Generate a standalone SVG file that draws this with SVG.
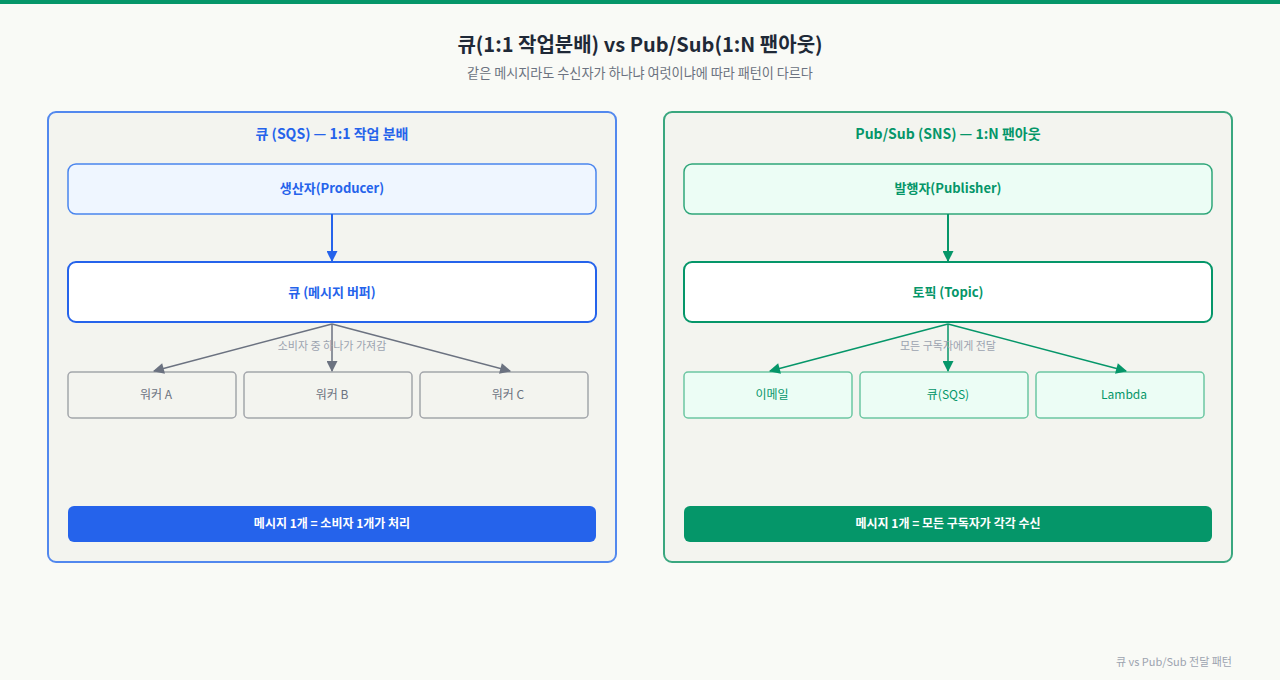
<svg xmlns="http://www.w3.org/2000/svg" width="1280" height="680" viewBox="0 0 1280 680">
<defs>
<marker id="ab" viewBox="0 0 10 10" refX="9" refY="5" markerWidth="12" markerHeight="11" markerUnits="userSpaceOnUse" orient="auto"><path d="M0,0 L10,5 L0,10 z" fill="#2563eb"/></marker>
<marker id="ag" viewBox="0 0 10 10" refX="9" refY="5" markerWidth="12" markerHeight="11" markerUnits="userSpaceOnUse" orient="auto"><path d="M0,0 L10,5 L0,10 z" fill="#6b7280"/></marker>
<marker id="an" viewBox="0 0 10 10" refX="9" refY="5" markerWidth="12" markerHeight="11" markerUnits="userSpaceOnUse" orient="auto"><path d="M0,0 L10,5 L0,10 z" fill="#059669"/></marker>
<style>
text{font-family:"Noto Sans CJK KR","Noto Sans",sans-serif;text-anchor:middle}
.title{font-size:20px;font-weight:700;fill:#1f2937}
.sub{font-size:13.1px;fill:#6b7280}
.ptb{font-size:14px;font-weight:700;fill:#2563eb}
.ptg{font-size:14px;font-weight:700;fill:#059669}
.nb{font-size:13px;font-weight:700;fill:#2563eb}
.ng{font-size:13px;font-weight:700;fill:#059669}
.w{font-size:12px;fill:#6b7280}
.s{font-size:12px;fill:#059669}
.lbl{font-size:11px;fill:#9ca3af}
.bar{font-size:12px;font-weight:700;fill:#ffffff}
.foot{font-size:11px;fill:#9ca3af;text-anchor:end}
</style>
</defs>
<rect x="0" y="0" width="1280" height="680" fill="#f9faf6"/>
<rect x="0" y="0" width="1280" height="4" fill="#059669"/>
<text class="title" x="640" y="52">큐(1:1 작업분배) vs Pub/Sub(1:N 팬아웃)</text>
<text class="sub" x="640" y="78">같은 메시지라도 수신자가 하나냐 여럿이냐에 따라 패턴이 다르다</text>

<g id="panel-queue">
<rect x="48" y="112" width="568" height="450" rx="8" fill="#f3f4ef" stroke="#5288ee" stroke-width="2"/>
<text class="ptb" x="332" y="139">큐 (SQS) — 1:1 작업 분배</text>
</g>
<g id="producer">
<rect x="68" y="164" width="528" height="50" rx="8" fill="#eff6ff" stroke="#4a85ee" stroke-width="1.5"/>
<text class="nb" x="332" y="193">생산자(Producer)</text>
</g>
<g id="queue">
<rect x="68" y="262" width="528" height="60" rx="8" fill="#ffffff" stroke="#2563eb" stroke-width="2"/>
<text class="nb" x="332" y="297">큐 (메시지 버퍼)</text>
</g>
<g id="worker-a">
<rect x="68" y="372" width="168" height="46" rx="4" fill="#f3f4ef" stroke="#a3a6ab" stroke-width="1.5"/>
<text class="w" x="156" y="399">워커 A</text>
</g>
<g id="worker-b">
<rect x="244" y="372" width="168" height="46" rx="4" fill="#f3f4ef" stroke="#a3a6ab" stroke-width="1.5"/>
<text class="w" x="332" y="399">워커 B</text>
</g>
<g id="worker-c">
<rect x="420" y="372" width="168" height="46" rx="4" fill="#f3f4ef" stroke="#a3a6ab" stroke-width="1.5"/>
<text class="w" x="508" y="399">워커 C</text>
</g>
<g id="queue-note">
<rect x="68" y="506" width="528" height="36" rx="6" fill="#2563eb"/>
<text class="bar" x="332" y="528">메시지 1개 = 소비자 1개가 처리</text>
</g>

<g id="panel-pubsub">
<rect x="664" y="112" width="568" height="450" rx="8" fill="#f3f4ef" stroke="#3aa77f" stroke-width="2"/>
<text class="ptg" x="948" y="139">Pub/Sub (SNS) — 1:N 팬아웃</text>
</g>
<g id="publisher">
<rect x="684" y="164" width="528" height="50" rx="8" fill="#ecfdf5" stroke="#2fa67a" stroke-width="1.5"/>
<text class="ng" x="948" y="193">발행자(Publisher)</text>
</g>
<g id="topic">
<rect x="684" y="262" width="528" height="60" rx="8" fill="#ffffff" stroke="#059669" stroke-width="2"/>
<text class="ng" x="948" y="297">토픽 (Topic)</text>
</g>
<g id="sub-email">
<rect x="684" y="372" width="168" height="46" rx="4" fill="#ecfdf5" stroke="#6cc6a2" stroke-width="1.5"/>
<text class="s" x="772" y="399">이메일</text>
</g>
<g id="sub-sqs">
<rect x="860" y="372" width="168" height="46" rx="4" fill="#ecfdf5" stroke="#6cc6a2" stroke-width="1.5"/>
<text class="s" x="948" y="399">큐(SQS)</text>
</g>
<g id="sub-lambda">
<rect x="1036" y="372" width="168" height="46" rx="4" fill="#ecfdf5" stroke="#6cc6a2" stroke-width="1.5"/>
<text class="s" x="1124" y="399">Lambda</text>
</g>
<g id="pubsub-note">
<rect x="684" y="506" width="528" height="36" rx="6" fill="#059669"/>
<text class="bar" x="948" y="528">메시지 1개 = 모든 구독자가 각각 수신</text>
</g>

<g id="connectors" fill="none" stroke-width="1.5">
<line x1="332" y1="214" x2="332" y2="261" stroke="#2563eb" stroke-width="2" marker-end="url(#ab)"/>
<line x1="332" y1="324" x2="154" y2="371" stroke="#6b7280" marker-end="url(#ag)"/>
<line x1="332" y1="324" x2="332" y2="371" stroke="#6b7280" marker-end="url(#ag)"/>
<line x1="332" y1="324" x2="510" y2="371" stroke="#6b7280" marker-end="url(#ag)"/>
<line x1="948" y1="214" x2="948" y2="261" stroke="#059669" stroke-width="2" marker-end="url(#an)"/>
<line x1="948" y1="324" x2="770" y2="371" stroke="#059669" marker-end="url(#an)"/>
<line x1="948" y1="324" x2="948" y2="371" stroke="#059669" marker-end="url(#an)"/>
<line x1="948" y1="324" x2="1126" y2="371" stroke="#059669" marker-end="url(#an)"/>
</g>
<text class="lbl" x="332" y="350">소비자 중 하나가 가져감</text>
<text class="lbl" x="948" y="350">모든 구독자에게 전달</text>
<text class="foot" x="1232" y="666">큐 vs Pub/Sub 전달 패턴</text>
</svg>
